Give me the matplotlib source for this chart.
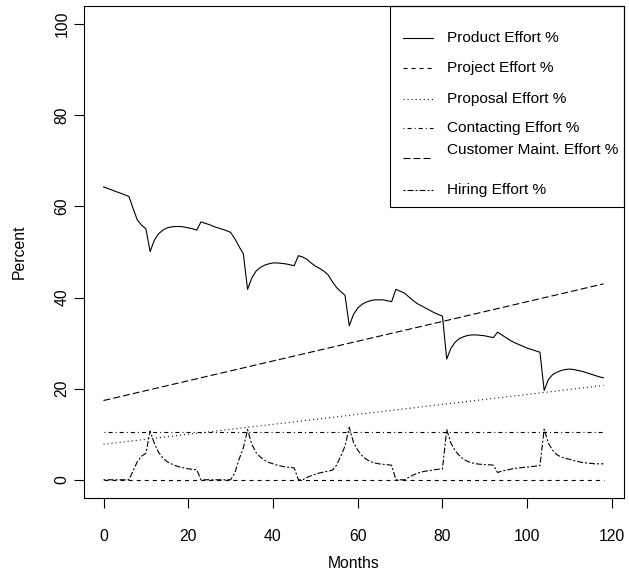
import matplotlib
matplotlib.use("Agg")
import matplotlib.pyplot as plt
from matplotlib.lines import Line2D
from matplotlib.patches import Rectangle

plt.rcParams['font.family'] = ['Liberation Sans', 'DejaVu Sans']
plt.rcParams['lines.scale_dashes'] = False

# ---- data (monthly, 0..118) ----
months = list(range(119))

product = [64.3, 63.95, 63.6, 63.25, 62.9, 62.55, 62.2, 59.5, 57.0, 55.9,
           55.1, 50.1, 52.6, 54.0, 54.8, 55.3, 55.5, 55.6, 55.6, 55.5,
           55.3, 55.1, 54.8, 56.6, 56.3, 56.0, 55.6, 55.3, 55.0, 54.7,
           54.3, 52.9, 51.2, 49.6, 41.8, 44.3, 45.8, 46.6, 47.1, 47.4,
           47.6, 47.6, 47.5, 47.4, 47.2, 47.0, 49.2, 48.9, 48.4, 47.6,
           46.9, 46.4, 45.8, 45.0, 43.5, 42.2, 41.3, 40.5, 33.8, 36.3,
           37.7, 38.5, 39.0, 39.3, 39.5, 39.5, 39.5, 39.3, 39.1, 41.8,
           41.4, 41.0, 40.2, 39.4, 38.7, 38.2, 37.7, 37.2, 36.7, 36.3,
           35.9, 26.5, 28.9, 30.2, 31.0, 31.4, 31.7, 31.8, 31.8, 31.7,
           31.6, 31.4, 31.2, 32.4, 31.8, 31.2, 30.6, 30.1, 29.7, 29.3,
           28.9, 28.6, 28.3, 28.0, 19.6, 22.0, 23.1, 23.6, 24.0, 24.2,
           24.3, 24.2, 24.0, 23.8, 23.5, 23.2, 22.9, 22.6, 22.4]

hiring = [0, 0, 0, 0, 0, 0, 0, 2.0, 4.0, 5.2,
          5.8, 10.7, 8.0, 6.0, 4.8, 4.0, 3.5, 3.1, 2.8, 2.6,
          2.4, 2.3, 2.2, 0, 0, 0, 0, 0, 0, 0,
          0, 1.5, 4.5, 7.0, 11.0, 7.8, 6.0, 5.0, 4.3, 3.8,
          3.5, 3.2, 3.0, 2.8, 2.7, 2.6, 0, 0, 0.5, 0.9,
          1.2, 1.5, 1.7, 1.9, 2.1, 3.2, 5.2, 7.4, 11.5, 8.2,
          6.5, 5.3, 4.5, 4.0, 3.7, 3.5, 3.4, 3.3, 3.2, 0,
          0, 0, 0.5, 1.0, 1.4, 1.7, 1.9, 2.0, 2.2, 2.3,
          2.4, 11.0, 8.0, 6.4, 5.3, 4.5, 4.0, 3.7, 3.5, 3.4,
          3.3, 3.3, 3.2, 1.6, 1.9, 2.1, 2.3, 2.5, 2.6, 2.7,
          2.8, 2.9, 3.0, 3.1, 11.1, 8.0, 6.5, 5.5, 5.0, 4.7,
          4.5, 4.2, 4.0, 3.8, 3.7, 3.6, 3.5, 3.5, 3.5]

# straight series: values at first and last month
end_months = [0, 118]
project = [0.0, 0.0]
proposal = [7.8, 20.7]
contacting = [10.4, 10.4]
cust_maint = [17.4, 43.0]

labels = ["Product Effort %", "Project Effort %", "Proposal Effort %",
          "Contacting Effort %", "Customer Maint. Effort %", "Hiring Effort %"]

# R style line types, in points at 100 dpi
solid = None
dashed = (0, (2.9, 2.9))
dotted = (0, (0.72, 2.2))
dotdash = (0, (0.72, 2.2, 2.9, 2.2))
longdash = (0, (5.0, 2.2))
twodash = (0, (1.45, 1.45, 4.3, 1.45))
styles = [solid, dashed, dotted, dotdash, longdash, twodash]

W, H = 629, 578
fs = 11.3
fig = plt.figure(figsize=(W / 100, H / 100), dpi=100)
ax = fig.add_axes([83.5 / W, 1 - 498 / H, 540 / W, 492 / H])

lw = 0.8
ax.plot(months, product, color='black', lw=lw)
ax.plot(end_months, project, color='black', lw=lw, linestyle=dashed)
ax.plot(end_months, proposal, color='black', lw=lw, linestyle=dotted)
ax.plot(end_months, contacting, color='black', lw=lw, linestyle=dotdash)
ax.plot(end_months, cust_maint, color='black', lw=lw, linestyle=longdash)
ax.plot(months, hiring, color='black', lw=lw, linestyle=twodash)

ax.set_xlim(-4.72, 122.72)
ax.set_ylim(-4, 104)
ax.set_xticks(range(0, 121, 20))
ax.set_yticks(range(0, 101, 20))
ax.tick_params(length=7, width=0.8, labelsize=fs, color='black')
ax.tick_params(axis='x', pad=15)
ax.tick_params(axis='y', pad=3)
for lab in ax.get_yticklabels():
    lab.set_rotation(90)
    lab.set_va('center')
for s in ax.spines.values():
    s.set_linewidth(0.8)
ax.set_xlabel("Months", fontsize=fs, labelpad=9)
ax.set_ylabel("Percent", fontsize=fs, labelpad=20)

# legend box, drawn like R's legend()
def fx(px):
    return px / W

def fy(py):
    return 1 - py / H

fig.add_artist(Rectangle((fx(390), fy(207)), fx(623.5) - fx(390), fy(6) - fy(207),
                         transform=fig.transFigure, fill=False, lw=0.8,
                         edgecolor='black'))
line_rows = [38, 68, 99, 128, 158, 190]
text_rows = [38, 68, 99, 128, 150, 190]
for lab, st, ly, ty in zip(labels, styles, line_rows, text_rows):
    fig.add_artist(Line2D([fx(403), fx(433)], [fy(ly), fy(ly)],
                          transform=fig.transFigure, color='black', lw=lw,
                          linestyle=st if st else '-'))
    fig.text(fx(447), fy(ty), lab, fontsize=11.1, va='center', ha='left')

fig.savefig("out.png", dpi=100)
